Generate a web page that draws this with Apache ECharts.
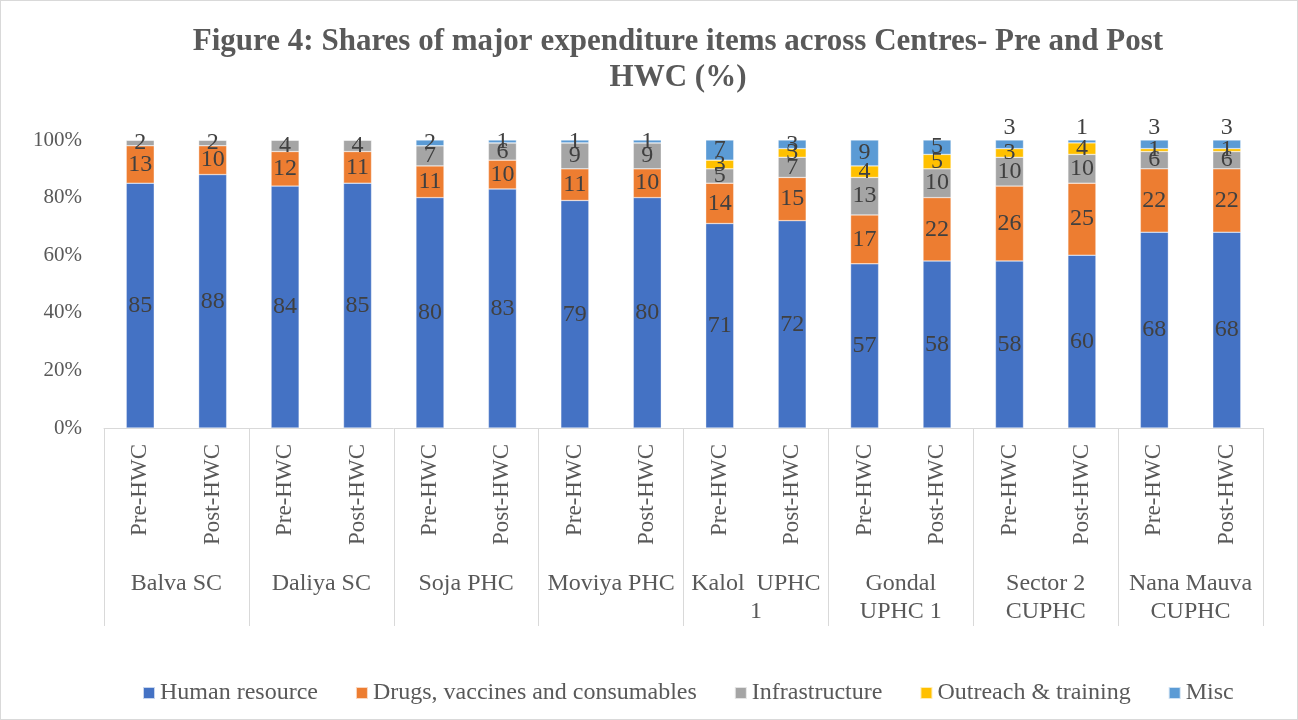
<!DOCTYPE html>
<html>
<head>
<meta charset="utf-8">
<title>Figure 4</title>
<script src="https://cdn.jsdelivr.net/npm/echarts@6/dist/echarts.min.js"></script>
<style>
    html, body { margin: 0; padding: 0; background: #fff; }
    #chart { width: 1298px; height: 720px; box-sizing: border-box; border: 1px solid #d9d9d9; }
</style>
</head>
<body>
<div id="chart"></div>
<script>
    // centres (outer axis level) and phases (inner level)
    const centres = ['Balva SC', 'Daliya SC', 'Soja PHC', 'Moviya PHC', 'Kalol  UPHC\n1', 'Gondal\nUPHC 1', 'Sector 2\nCUPHC', 'Nana Mauva\nCUPHC'];
    const phases = ['Pre-HWC', 'Post-HWC'];
    const yTicks = [0, 20, 40, 60, 80, 100];

    // shares in %, one value per bar (Pre, Post for each centre)
    const humanResource = [85, 88, 84, 85, 80, 83, 79, 80, 71, 72, 57, 58, 58, 60, 68, 68];
    const drugs = [13, 10, 12, 11, 11, 10, 11, 10, 14, 15, 17, 22, 26, 25, 22, 22];
    const infrastructure = [2, 2, 4, 4, 7, 6, 9, 9, 5, 7, 13, 10, 10, 10, 6, 6];
    const outreach = [0, 0, 0, 0, 0, 0, 0, 0, 3, 3, 4, 5, 3, 4, 1, 1];
    const misc = [0, 0, 0, 0, 2, 1, 1, 1, 7, 3, 9, 5, 3, 1, 3, 3];

    // bars whose misc label sits above the bar
    const miscLabelAbove = [12, 13, 14, 15];

    const font = "'Times New Roman', 'Liberation Serif', serif";
    const bars = centres.flatMap(() => phases);

    let chart = echarts.init(document.getElementById('chart'));

    function makeSeries(name, values, color, aboveIdx) {
        return {
            name: name,
            type: 'bar',
            stack: 'total',
            xAxisIndex: 0,
            barWidth: 28,
            itemStyle: { color: color, borderColor: 'rgba(255,255,255,0.7)', borderWidth: 0.5 },
            label: {
                show: true,
                position: 'inside',
                color: '#404040',
                fontSize: 24,
                fontFamily: font,
                formatter: p => (p.value ? p.value : '')
            },
            data: values.map((v, i) => {
                if (aboveIdx && aboveIdx.indexOf(i) >= 0) {
                    return { value: v, label: { position: 'top', distance: 0 } };
                }
                return v;
            })
        };
    }

    let option = {
        animation: false,
        title: {
            text: 'Figure 4: Shares of major expenditure items across Centres- Pre and Post\nHWC (%)',
            left: 672,
            top: 18,
            textAlign: 'center',
            textStyle: {
                fontFamily: font,
                fontSize: 31,
                fontWeight: 'bold',
                color: '#595959',
                lineHeight: 36
            }
        },
        legend: {
            bottom: 9,
            left: 136,
            itemWidth: 12,
            itemHeight: 12,
            itemGap: 37,
            icon: 'rect',
            textStyle: { fontFamily: font, fontSize: 24, color: '#595959' },
            data: ['Human resource', 'Drugs, vaccines and consumables', 'Infrastructure', 'Outreach & training', 'Misc']
        },
        grid: { left: 103, right: 34, top: 139, bottom: 291 },
        xAxis: [
            {
                type: 'category',
                position: 'bottom',
                data: bars,
                axisLine: { show: true, lineStyle: { color: '#d9d9d9', width: 1 } },
                axisTick: { show: false },
                axisLabel: {
                    interval: 0,
                    rotate: 90,
                    margin: 16,
                    fontFamily: font,
                    fontSize: 23,
                    color: '#595959'
                }
            },
            {
                type: 'category',
                position: 'bottom',
                data: centres,
                axisLine: { show: false },
                axisTick: { show: true, interval: 0, length: 198, lineStyle: { color: '#d9d9d9', width: 1 } },
                axisLabel: {
                    interval: 0,
                    margin: 142,
                    lineHeight: 28,
                    fontFamily: font,
                    fontSize: 24,
                    color: '#595959'
                }
            }
        ],
        yAxis: {
            type: 'value',
            min: yTicks[0],
            max: yTicks[yTicks.length - 1],
            interval: 20,
            axisLine: { show: false },
            axisTick: { show: false },
            splitLine: { show: false },
            axisLabel: {
                formatter: '{value}%',
                margin: 22,
                fontFamily: font,
                fontSize: 21,
                color: '#595959'
            }
        },
        series: [
            makeSeries('Human resource', humanResource, '#4472c4'),
            makeSeries('Drugs, vaccines and consumables', drugs, '#ed7d31'),
            makeSeries('Infrastructure', infrastructure, '#a5a5a5'),
            makeSeries('Outreach & training', outreach, '#ffc000'),
            makeSeries('Misc', misc, '#5b9bd5', miscLabelAbove)
        ]
    };
    chart.setOption(option);
</script>
</body>
</html>
